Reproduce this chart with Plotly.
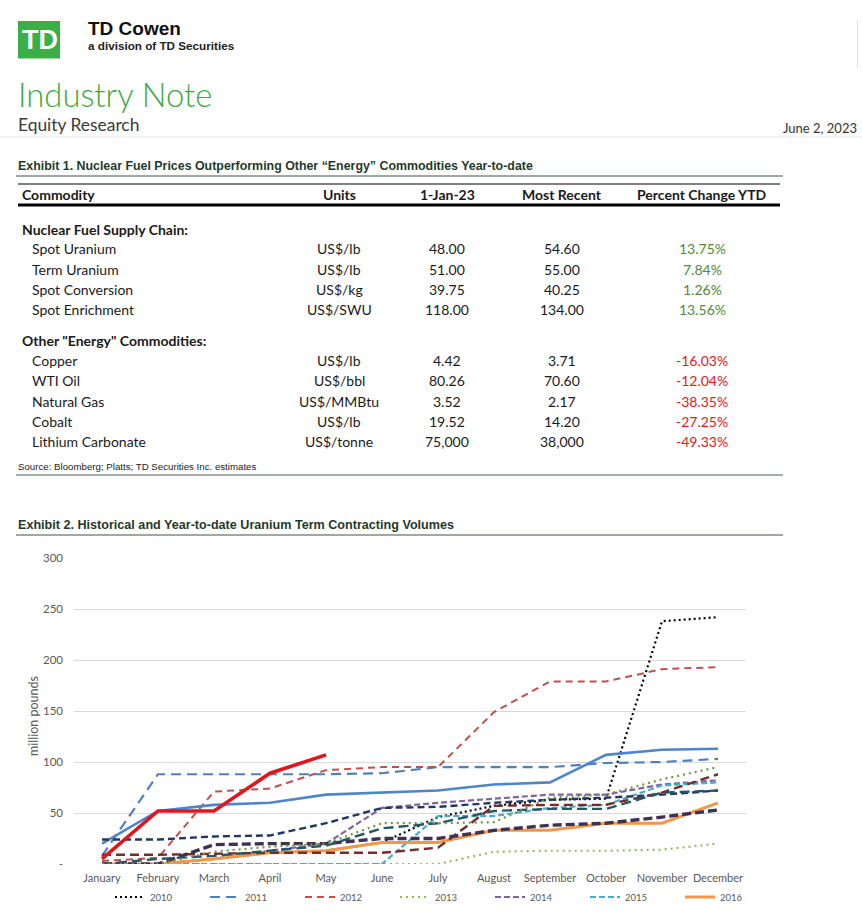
import plotly.graph_objects as go

W, H = 862, 914
def X(px): return px / W
def Y(py): return 1 - py / H

# ---------------- Data: Exhibit 1 table ----------------
table_header = ["Commodity", "Units", "1-Jan-23", "Most Recent", "Percent Change YTD"]
group1_title = "Nuclear Fuel Supply Chain:"
g1_names = ["Spot Uranium", "Term Uranium", "Spot Conversion", "Spot Enrichment"]
g1_units = ["US$/lb", "US$/lb", "US$/kg", "US$/SWU"]
g1_jan = ["48.00", "51.00", "39.75", "118.00"]
g1_recent = ["54.60", "55.00", "40.25", "134.00"]
g1_pct = ["13.75%", "7.84%", "1.26%", "13.56%"]

group2_title = "Other \"Energy\" Commodities:"
g2_names = ["Copper", "WTI Oil", "Natural Gas", "Cobalt", "Lithium Carbonate"]
g2_units = ["US$/lb", "US$/bbl", "US$/MMBtu", "US$/lb", "US$/tonne"]
g2_jan = ["4.42", "80.26", "3.52", "19.52", "75,000"]
g2_recent = ["3.71", "70.60", "2.17", "14.20", "38,000"]
g2_pct = ["-16.03%", "-12.04%", "-38.35%", "-27.25%", "-49.33%"]

# ---------------- Data: Exhibit 2 chart ----------------
months = ["January", "February", "March", "April", "May", "June", "July",
          "August", "September", "October", "November", "December"]
y2010 = [0, 0, 5, 11, 13, 21, 46, 57, 63, 64, 238, 242]
y2011 = [8, 88, 88, 88, 88, 89, 95, 95, 95, 99, 100, 103]
y2012 = [3, 6, 71, 74, 92, 95, 95, 149, 179, 179, 191, 193]
y2013 = [0, 0, 0, 0, 0, 0, 0, 12, 13, 13, 14, 20]
y2014 = [0, 0, 5, 13, 20, 55, 60, 64, 68, 68, 78, 82]
y2015 = [0, 0, 0, 0, 0, 0, 47, 47, 55, 58, 77, 80]
y2016 = [0, 0, 5, 11, 13, 21, 21, 33, 33, 40, 40, 60]
y2017 = [20, 52, 58, 60, 68, 70, 72, 78, 80, 107, 112, 113]
y2018 = [24, 24, 27, 28, 40, 55, 56, 60, 63, 65, 68, 72]
y2019 = [9, 9, 10, 11, 11, 11, 16, 57, 58, 58, 70, 88]
y2020 = [0, 0, 19, 20, 20, 25, 25, 33, 38, 40, 46, 53]
y2021 = [0, 5, 8, 13, 18, 35, 40, 52, 54, 54, 70, 72]
y2022 = [0, 0, 12, 17, 20, 40, 40, 41, 65, 68, 83, 95]
y2023 = [5, 52, 52, 89, 107]
y_ticks = [0, 50, 100, 150, 200, 250, 300]
y_ticktext = ["-", "50", "100", "150", "200", "250", "300"]

series = [
    ("2010", y2010, "#000000", 2.2, "2px,3px", True),
    ("2011", y2011, "#4F81BD", 2.2, "10px,6px", True),
    ("2012", y2012, "#C0504D", 2.0, "7px,5px", True),
    ("2013", y2013, "#9BBB59", 2.2, "2px,4px", True),
    ("2014", y2014, "#8064A2", 2.2, "6px,3px", True),
    ("2015", y2015, "#4BACC6", 2.2, "6px,3px", True),
    ("2016", y2016, "#F79646", 3.0, "solid", True),
    ("2017", y2017, "#4F86C9", 2.6, "solid", False),
    ("2018", y2018, "#1F3864", 2.4, "7px,4px", False),
    ("2019", y2019, "#772C2A", 2.4, "9px,5px", False),
    ("2020", y2020, "#3F3151", 3.4, "9px,4px", False),
    ("2021", y2021, "#215968", 2.4, "10px,5px", False),
    ("2022", y2022, "#77933C", 2.2, "2px,4px", False),
    ("2023", y2023, "#E3151C", 3.6, "solid", False),
]

fig = go.Figure()
for name, vals, color, width, dash, show in series:
    fig.add_trace(go.Scatter(
        x=months[:len(vals)], y=vals, name=name, mode="lines",
        line=dict(color=color, width=width, dash=dash),
        showlegend=show, hoverinfo="skip"))

CAL = "Lato, Carlito, Calibri, sans-serif"
NARROW = "Liberation Sans Narrow, Arial Narrow, Liberation Sans, sans-serif"
ARIAL = "Liberation Sans, Arial, sans-serif"

fig.update_layout(
    width=W, height=H,
    margin=dict(l=0, r=0, t=0, b=0, autoexpand=False),
    paper_bgcolor="white", plot_bgcolor="white",
    xaxis=dict(domain=[X(74), X(746)], range=[-0.5, 11.5], type="category",
               showgrid=False, showline=False, zeroline=False, ticks="",
               tickfont=dict(family=CAL, size=11, color="#595959"),
               ticklabelstandoff=6, automargin=False),
    yaxis=dict(domain=[Y(864), Y(558)], range=[0, 300], tickvals=y_ticks,
               ticktext=y_ticktext, showgrid=True, gridcolor="#D9D9D9", gridwidth=1,
               zeroline=False, showline=False, ticks="",
               tickfont=dict(family=CAL, size=11.5, color="#595959"),
               ticklabelstandoff=10, automargin=False),
    legend=dict(orientation="h", x=X(110), xanchor="left", y=Y(897), yanchor="middle",
                font=dict(family=CAL, size=9.5, color="#595959"),
                entrywidth=50, entrywidthmode="pixels", bgcolor="rgba(0,0,0,0)",
                itemwidth=30, tracegroupgap=0),
)

ann = []
shapes = []

def text(x, y, s, size, color="#1a1a1a", family=CAL, anchor="left", bold=False, weight=None, angle=0):
    if bold:
        s = "<b>" + s + "</b>"
    f = dict(family=family, size=size, color=color)
    if weight is not None:
        f["weight"] = weight
    if anchor == "left":
        x = x - 2
    elif anchor == "right":
        x = x + 2
    ann.append(dict(x=X(x), y=Y(y), xref="paper", yref="paper", text=s, showarrow=False,
                    xanchor=anchor, yanchor="middle", font=f, textangle=angle))

def hline(x0, x1, y, color, width):
    shapes.append(dict(type="line", xref="paper", yref="paper", x0=X(x0), x1=X(x1),
                       y0=Y(y), y1=Y(y), line=dict(color=color, width=width)))

# ---------------- Header ----------------
shapes.append(dict(type="rect", xref="paper", yref="paper", x0=X(18), x1=X(60), y0=Y(58.5), y1=Y(21),
                   fillcolor="#3AAE47", line=dict(width=0)))
text(40, 40, "TD", 27, color="white", family=ARIAL, anchor="center", bold=True)
text(88, 29, "TD Cowen", 19, color="#111111", family=ARIAL, bold=True)
text(88, 45, "a division of TD Securities", 11.7, color="#222222", family=ARIAL, weight=600)
text(18, 95, "Industry Note", 32.8, color="#3BAA3C", family=CAL, weight=300)
text(18, 125, "Equity Research", 17.4, color="#3a3a3a", family=CAL)
text(857, 128, "June 2, 2023", 13, color="#333333", family=CAL, anchor="right")
hline(0, 862, 137, "#E6E6E6", 1)
shapes.append(dict(type="line", xref="paper", yref="paper", x0=X(857.5), x1=X(857.5), y0=Y(20), y1=Y(68),
                   line=dict(color="#E3E3E3", width=1)))

# ---------------- Exhibit 1 ----------------
TITLE_C = "#1F3A2A"
text(18, 165.5, "Exhibit 1. Nuclear Fuel Prices Outperforming Other \u201cEnergy\u201d Commodities Year-to-date",
     12.4, color=TITLE_C, family=NARROW, bold=True)
hline(16, 783, 176, "#7E8C82", 1.5)
hline(18, 780, 184, "#555555", 1.5)
hline(18, 780, 205, "#000000", 3)

cx = [22, 339, 447, 561.5, 702]
row_h = 194.3
text(cx[0], row_h, table_header[0], 14, bold=True)
for i in range(1, 5):
    text(cx[i], row_h, table_header[i], 14, anchor="center", bold=True)

POS = "#4E8A3A"
NEG = "#E0201B"
text(22, 229, group1_title, 14, bold=True)
rows1 = [248.7, 269, 289.3, 309.5]
for j, yy in enumerate(rows1):
    text(32, yy, g1_names[j], 14)
    text(cx[1], yy, g1_units[j], 14, anchor="center")
    text(cx[2], yy, g1_jan[j], 14, anchor="center")
    text(cx[3], yy, g1_recent[j], 14, anchor="center")
    text(cx[4], yy, g1_pct[j], 14, anchor="center", color=POS)

text(22, 340.7, group2_title, 14, bold=True)
rows2 = [360.7, 381, 401.3, 421.7, 441.7]
for j, yy in enumerate(rows2):
    text(32, yy, g2_names[j], 14)
    text(cx[1], yy, g2_units[j], 14, anchor="center")
    text(cx[2], yy, g2_jan[j], 14, anchor="center")
    text(cx[3], yy, g2_recent[j], 14, anchor="center")
    text(cx[4], yy, g2_pct[j], 14, anchor="center", color=NEG)

text(18, 466.5, "Source: Bloomberg; Platts; TD Securities Inc. estimates", 9.7, color="#222222", family=NARROW)
hline(16, 783, 475, "#A5ADA8", 2)

# ---------------- Exhibit 2 ----------------
text(18, 524.5, "Exhibit 2. Historical and Year-to-date Uranium Term Contracting Volumes",
     12.6, color=TITLE_C, family=NARROW, bold=True)
hline(16, 783, 535, "#7E8C82", 1.5)
text(33, 716, "million pounds", 12.5, color="#595959", family=CAL, anchor="center", angle=-90)

fig.update_layout(annotations=ann, shapes=shapes)
fig.write_html("out.html", config={"displayModeBar": False},
               post_script="document.body.style.margin='0';")
